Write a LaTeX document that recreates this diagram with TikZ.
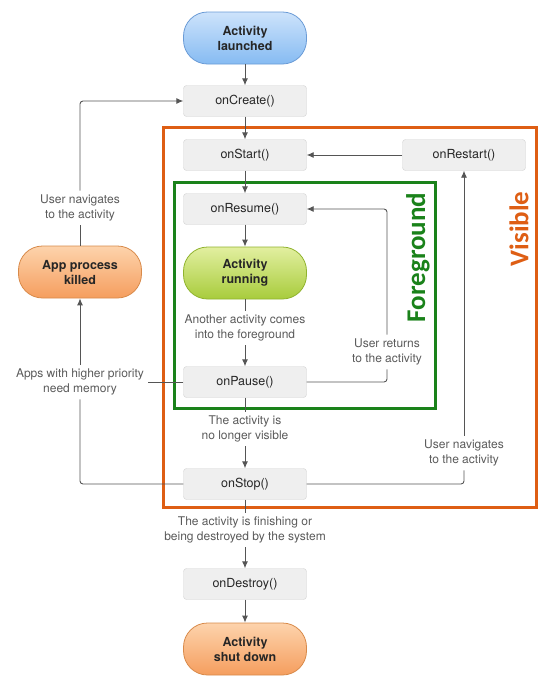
\documentclass[tikz,border=0pt]{standalone}
\usepackage{fontspec}
\setmainfont{TeX Gyre Heros}
\newfontfamily\calib{Carlito}
\usetikzlibrary{arrows.meta}
\definecolor{linec}{HTML}{555555}
\definecolor{labc}{HTML}{5A5A5A}
\definecolor{boxfill}{HTML}{EFEFEF}
\definecolor{boxdraw}{HTML}{D2D2D2}
\definecolor{fgc}{HTML}{1A821A}
\definecolor{visc}{HTML}{DE5E14}
\definecolor{bluetop}{HTML}{CDE3FB}
\definecolor{bluebot}{HTML}{86BBF2}
\definecolor{bluedraw}{HTML}{6A9BD6}
\definecolor{greentop}{HTML}{E2EFA0}
\definecolor{greenbot}{HTML}{A8CC3C}
\definecolor{greendraw}{HTML}{90B32E}
\definecolor{orangetop}{HTML}{FDD3AC}
\definecolor{orangebot}{HTML}{F59E5E}
\definecolor{orangedraw}{HTML}{D88A4A}
\tikzset{
  x=1pt, y=-1pt,
  cb/.style={draw=boxdraw, fill=boxfill, rounded corners=3pt, minimum width=123pt, minimum height=31pt, inner sep=0pt, font=\fontsize{12.5}{14}\selectfont, text=black!85},
  pill/.style={rounded corners=24pt, minimum width=123pt, minimum height=52pt, inner sep=0pt, align=center, font=\fontsize{12.5}{15}\bfseries\selectfont, text=black!85, line width=0.8pt},
  bluepill/.style={pill, draw=bluedraw, top color=bluetop, bottom color=bluebot},
  greenpill/.style={pill, draw=greendraw, top color=greentop, bottom color=greenbot},
  orangepill/.style={pill, draw=orangedraw, top color=orangetop, bottom color=orangebot},
  lab/.style={align=center, font=\fontsize{12}{15}\selectfont, text=labc, inner sep=4pt},
  conn/.style={draw=linec, line width=0.9pt, rounded corners=3pt},
  arr/.style={conn, -{Latex[length=7pt,width=6pt]}},
}
\begin{document}
\begin{tikzpicture}
\useasboundingbox (0,0) rectangle (547,688);
% frames
\draw[visc, line width=3pt] (163,127) rectangle (536,507);
\draw[fgc, line width=3pt] (174,182) rectangle (435,408);
\node[rotate=90, text=fgc, font=\calib\fontsize{27}{30}\bfseries\selectfont] (fgt) at (418,257.5) {Foreground};
\node[rotate=90, text=visc, font=\calib\fontsize{27}{30}\bfseries\selectfont] (vist) at (519,229) {Visible};
% nodes
\node[bluepill] (launch) at (245,38) {Activity\\launched};
\node[cb] (create) at (245,101) {onCreate()};
\node[cb] (start) at (245,155) {onStart()};
\node[cb] (restart) at (464,155) {onRestart()};
\node[cb] (resume) at (245,209) {onResume()};
\node[greenpill] (run) at (245,273) {Activity\\running};
\node[lab] (another) at (245,328) {Another activity comes\\into the foreground};
\node[cb] (pause) at (245,382) {onPause()};
\node[lab] (uret) at (387,352) {User returns\\to the activity};
\node[lab] (novis) at (245,429) {The activity is\\no longer visible};
\node[cb] (stop) at (245,484) {onStop()};
\node[lab] (rnav) at (464,453) {User navigates\\to the activity};
\node[lab] (fin) at (245,530) {The activity is finishing or\\being destroyed by the system};
\node[cb] (destroy) at (245,584) {onDestroy()};
\node[orangepill] (shut) at (245,649) {Activity\\shut down};
\node[orangepill] (killed) at (80,272) {App process\\killed};
\node[lab] (lnav) at (80,208) {User navigates\\to the activity};
\node[lab] (apps) at (80,382) {Apps with higher priority\\need memory};
% connectors
\draw[arr] (launch) -- (create);
\draw[arr] (create) -- (start);
\draw[arr] (start) -- (resume);
\draw[arr] (resume) -- (run);
\draw[conn] (run) -- (another);
\draw[arr] (another) -- (pause);
\draw[conn] (pause) -- (novis);
\draw[arr] (novis) -- (stop);
\draw[conn] (stop) -- (fin);
\draw[arr] (fin) -- (destroy);
\draw[arr] (destroy) -- (shut);
\draw[arr] (restart) -- (start);
\draw[conn] (pause.east) -| (uret.south);
\draw[arr] (uret.north) |- (resume.east);
\draw[conn] (stop.east) -| (rnav.south);
\draw[arr] (rnav.north) -- (restart.south);
\draw[conn] (pause.west) -- (apps.east);
\draw[conn] (stop.west) -| (apps.south);
\draw[arr] (apps.north) -- (killed.south);
\draw[conn] (killed.north) -- (lnav.south);
\draw[arr] (lnav.north) |- (create.west);
\end{tikzpicture}
\end{document}
